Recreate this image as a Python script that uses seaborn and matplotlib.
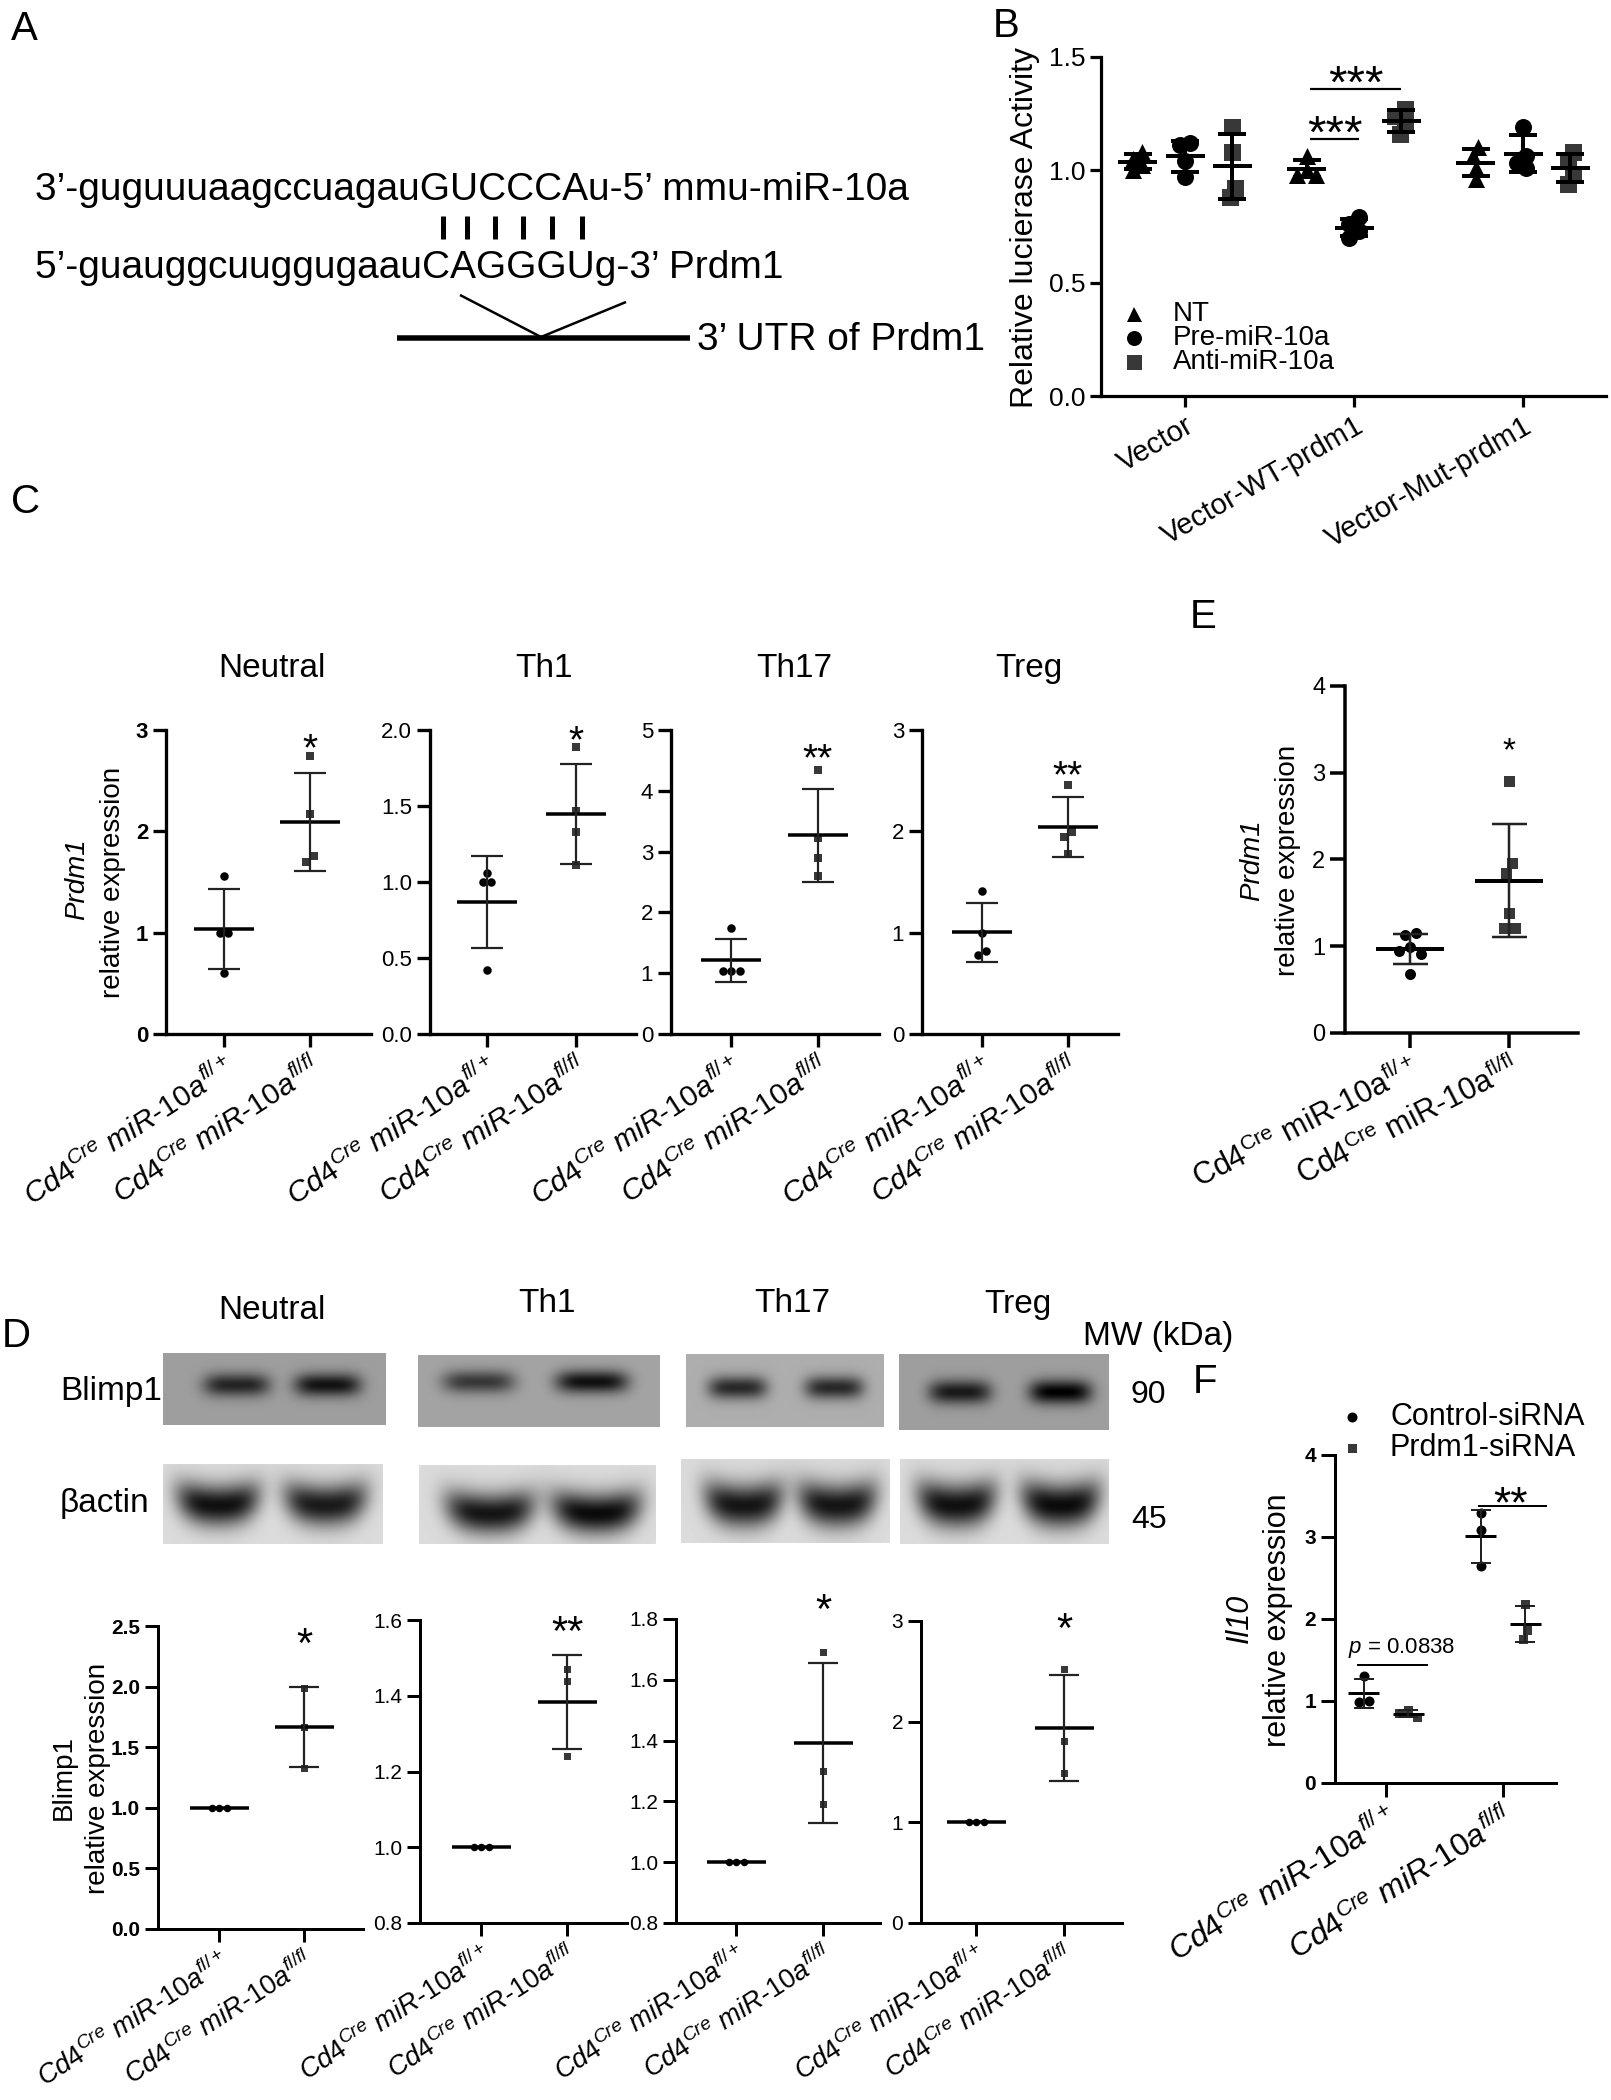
import numpy as np
import pandas as pd
import matplotlib
matplotlib.use("Agg")
import matplotlib.pyplot as plt
import seaborn as sns
from matplotlib.lines import Line2D

# ---------------- data ----------------
b_groups = ["Vector", "Vector-WT-prdm1", "Vector-Mut-prdm1"]
b_treat = ["NT", "Pre-miR-10a", "Anti-miR-10a"]
b_nt = [[1.08, 1.05, 1.02, 1.00], [1.06, 1.00, 0.98, 0.98], [1.10, 1.06, 1.01, 0.96]]
b_pre = [[1.12, 1.11, 1.04, 0.97], [0.79, 0.76, 0.73, 0.70], [1.19, 1.06, 1.03, 1.01]]
b_anti = [[1.19, 1.08, 0.92, 0.88], [1.27, 1.24, 1.20, 1.16], [1.08, 1.04, 0.98, 0.94]]

subsets = ["Neutral", "Th1", "Th17", "Treg"]
c_het = [[1.56, 1.00, 1.00, 0.60], [1.06, 1.00, 1.00, 0.42], [1.75, 1.03, 1.03, 1.03], [1.41, 1.00, 0.82, 0.78]]
c_ko = [[2.74, 2.17, 1.76, 1.70], [1.89, 1.47, 1.33, 1.11], [4.34, 3.22, 2.90, 2.60], [2.46, 1.99, 1.94, 1.78]]
c_stars = ["*", "*", "**", "**"]

d_het = [[1.0, 1.0, 1.0], [1.0, 1.0, 1.0], [1.0, 1.0, 1.0], [1.0, 1.0, 1.0]]
d_ko = [[1.99, 1.67, 1.33], [1.47, 1.44, 1.24], [1.69, 1.30, 1.19], [2.52, 1.81, 1.49]]
d_stars = ["*", "**", "*", "*"]

e_het = [1.15, 1.13, 0.99, 0.94, 0.91, 0.68]
e_ko = [2.91, 1.96, 1.85, 1.38, 1.21, 1.21]

f_series = ["Control-siRNA", "Prdm1-siRNA"]
f_ctrl = [[1.30, 1.00, 0.99], [3.29, 3.08, 2.65]]
f_si = [[0.89, 0.85, 0.80], [2.18, 1.86, 1.76]]

# western blot band darkness (lane 1, lane 2)
blimp_amp = [[0.48, 0.55], [0.42, 0.58], [0.52, 0.52], [0.52, 0.62]]
actin_amp = [[0.80, 0.76], [0.78, 0.82], [0.78, 0.78], [0.80, 0.82]]

geno_it = [r"$Cd4^{Cre}\ miR\text{-}10a^{fl/+}$", r"$Cd4^{Cre}\ miR\text{-}10a^{fl/fl}$"]
geno_rm = [r"$\mathrm{Cd4}^{\mathrm{Cre}}\ \mathrm{miR}\text{-}\mathrm{10a}^{\mathrm{fl/+}}$",
           r"$\mathrm{Cd4}^{\mathrm{Cre}}\ \mathrm{miR}\text{-}\mathrm{10a}^{\mathrm{fl/fl}}$"]

# ---------------- setup ----------------
W, H = 1611, 2100
sns.set_theme(style="ticks")
plt.rcParams["font.family"] = ["Liberation Sans", "DejaVu Sans"]
plt.rcParams["mathtext.fontset"] = "custom"
plt.rcParams["mathtext.rm"] = "Liberation Sans"
plt.rcParams["mathtext.it"] = "Liberation Sans:italic"
plt.rcParams["mathtext.bf"] = "Liberation Sans:bold"
plt.rcParams["mathtext.default"] = "it"
plt.rcParams["text.color"] = "black"

fig = plt.figure(figsize=(W / 100, H / 100), dpi=100)
fig.patch.set_facecolor("white")
PT = 0.72  # px -> pt at 100 dpi
SQ = "#383838"


def ftext(x, y, s, size, **kw):
    kw.setdefault("ha", "left")
    kw.setdefault("va", "baseline")
    fig.text(x / W, 1 - y / H, s, fontsize=size, **kw)


def fline(xs, ys, lw):
    fig.add_artist(Line2D([v / W for v in xs], [1 - v / H for v in ys], lw=lw * PT, color="black",
                          solid_capstyle="butt"))


def fmark(x, y, marker, px, color):
    fig.add_artist(Line2D([x / W], [1 - y / H], marker=marker, markersize=px * PT, color=color,
                          linestyle="none", markeredgewidth=0))


def add_ax(x0, x1, ytop, ybot, t0, t1, ylim, spine=3.0, tlen=13, lsize=16, bold=False):
    ax = fig.add_axes([x0 / W, 1 - ybot / H, (x1 - x0) / W, (ybot - ytop) / H])
    sx = t1 - t0
    sy = (ybot - ytop) / (ylim[1] - ylim[0])
    ax.set_facecolor("none")
    ax.spines[["top", "right"]].set_visible(False)
    for s in ["left", "bottom"]:
        ax.spines[s].set_linewidth(spine * PT)
        ax.spines[s].set_color("black")
    ax.tick_params(length=tlen * PT, width=spine * PT, labelsize=lsize, colors="black")
    ax._lims = ((x0 - t0) / sx, (x1 - t0) / sx), ylim
    ax._bold = bold
    ax._lsize = lsize
    return ax, sx, sy


def finish(ax, yticks, fmt):
    ax.set_xlim(*ax._lims[0])
    ax.set_ylim(*ax._lims[1])
    ax.set_yticks(yticks)
    ax.set_yticklabels([fmt.format(v) for v in yticks], fontsize=ax._lsize,
                       fontweight="bold" if ax._bold else "normal")
    ax.set_xlabel("")
    ax.set_ylabel("")


def swarm(vals, px_per_y, d):
    ys = np.asarray(vals, float) * px_per_y
    n = len(ys)
    order = np.argsort(-ys, kind="stable")
    offs = np.zeros(n)
    cands = [0.0]
    for m in range(1, 14):
        cands += [-m * d / 2, m * d / 2]
    done = []
    for i in order:
        for c in cands:
            if all((c - offs[j]) ** 2 + (ys[i] - ys[j]) ** 2 >= (0.999 * d) ** 2 for j in done):
                offs[i] = c
                break
        done.append(i)
    # centre connected clusters
    srt = list(order[::-1])
    clusters, cur = [], [srt[0]]
    for a, b in zip(srt[:-1], srt[1:]):
        if abs(ys[b] - ys[a]) < d:
            cur.append(b)
        else:
            clusters.append(cur)
            cur = [b]
    clusters.append(cur)
    for cl in clusters:
        offs[cl] -= offs[cl].mean()
    return offs


def group(ax, xc, vals, sx, sy, marker, mpx, color, mean_px, mean_lw, err_lw, cap_px,
          ecolor="black", spread=1.0):
    vals = np.asarray(vals, float)
    offs = swarm(vals, sy, mpx * spread) / sx
    df = pd.DataFrame({"x": xc + offs, "y": vals})
    sns.scatterplot(data=df, x="x", y="y", ax=ax, marker=marker, s=(mpx * PT) ** 2, color=color,
                    linewidth=0, zorder=3, clip_on=False, legend=False)
    m = vals.mean()
    sd = vals.std(ddof=1)
    hw = mean_px / 2 / sx
    ax.hlines(m, xc - hw, xc + hw, colors="black", linewidth=mean_lw * PT, zorder=4)
    if sd > 0:
        ax.errorbar(xc, m, yerr=sd, fmt="none", ecolor=ecolor, elinewidth=err_lw * PT,
                    capsize=cap_px * PT / 2, capthick=err_lw * PT, zorder=4)


def star(ax, x, y, s, fs):
    ax.annotate(s, (x, y), xytext=(0, -0.6 * fs), textcoords="offset points", ha="center",
                va="baseline", fontsize=fs, annotation_clip=False)


# ---------------- panel letters ----------------
for lt, x, y in [("A", 11, 40), ("B", 993, 37), ("C", 11, 513), ("D", 2, 1347),
                 ("E", 1190, 628), ("F", 1193, 1393)]:
    ftext(x, y, lt, 29)

# ---------------- A ----------------
ftext(35, 200, "3\u2019-guguuuaagccuagauGUCCCAu-5\u2019 mmu-miR-10a", 28)
ftext(35, 278, "5\u2019-guauggcuuggugaauCAGGGUg-3\u2019 Prdm1", 28)
for bx in [443, 467, 495, 523, 552, 582]:
    fline([bx, bx], [216, 239], 5)
fline([460, 541], [295, 337], 2.5)
fline([626, 541], [302, 337], 2.5)
fline([397, 690], [338, 338], 5.5)
ftext(697, 350, "3\u2019 UTR of Prdm1", 28)

# ---------------- B ----------------
axb, sxb, syb = add_ax(1101, 1606, 57, 396, 1185, 1354, (0, 1.5), spine=3.2, tlen=11, lsize=19)
hue_off = [-0.28, 0.0, 0.28]
b_sets = [b_nt, b_pre, b_anti]
b_mark = ["^", "o", "s"]
b_col = ["black", "black", SQ]
for k in range(3):
    for g in range(3):
        group(axb, g + hue_off[k], b_sets[k][g], sxb, syb, b_mark[k], 17, b_col[k],
              39, 4, 4, 28, spread=0.55)
axb.set_xticks(range(3))
axb.set_xticklabels(b_groups, rotation=30, ha="right", rotation_mode="anchor", fontsize=21)
finish(axb, [0, 0.5, 1.0, 1.5], "{:.1f}")
axb.hlines(1.139, 0.74, 1.03, colors="black", lw=2.2 * PT)
axb.hlines(1.358, 0.74, 1.276, colors="black", lw=2.2 * PT)
star(axb, 0.885, 1.225, "***", 34)
star(axb, 1.01, 1.445, "***", 34)
fig.text(1025 / W, 1 - 228 / H, "Relative lucierase Activity", rotation=90, ha="center", va="center",
         fontsize=23)
for i, (lab, mk, col) in enumerate(zip(b_treat, b_mark, b_col)):
    yy = [314, 338, 362][i]
    fmark(1134, yy, mk, 15, col)
    ftext(1173, yy, lab, 20, va="center")

# ---------------- C ----------------
c_geo = [(166, 371, 224, 310, (0, 3), [0, 1, 2, 3], "{:.0f}", True),
         (430, 636, 487, 576, (0, 2), [0, 0.5, 1.0, 1.5, 2.0], "{:.1f}", False),
         (671, 879, 731, 818, (0, 5), [0, 1, 2, 3, 4, 5], "{:.0f}", False),
         (922, 1118, 982, 1068, (0, 3), [0, 1, 2, 3], "{:.0f}", False)]
c_title_x = [272, 544, 794, 1029]
c_star_y = [2.93, 2.01, 4.72, 2.66]
for i, (x0, x1, t0, t1, yl, yt, fmt, bold) in enumerate(c_geo):
    ax, sx, sy = add_ax(x0, x1, 730, 1034, t0, t1, yl, spine=3.3, tlen=13, lsize=16, bold=bold)
    group(ax, 0, c_het[i], sx, sy, "o", 8.5, "black", 60, 3.5, 2.2, 32, ecolor="#222222")
    group(ax, 1, c_ko[i], sx, sy, "s", 7.5, SQ, 60, 3.5, 2.2, 32, ecolor="#222222")
    ax.set_xticks([0, 1])
    ax.set_xticklabels(geno_it, rotation=33, ha="right", rotation_mode="anchor", fontsize=21.5)
    finish(ax, yt, fmt)
    star(ax, 1, c_star_y[i], c_stars[i], 28)
    ftext(c_title_x[i], 677, subsets[i], 24, ha="center")
fig.text(77 / W, 1 - 879 / H, "Prdm1", rotation=90, ha="center", va="center", fontsize=20,
         fontstyle="italic")
fig.text(113 / W, 1 - 882 / H, "relative expression", rotation=90, ha="center", va="center", fontsize=20)

# ---------------- E ----------------
axe, sxe, sye = add_ax(1345, 1578, 686, 1033, 1410, 1509, (0, 4), spine=3.5, tlen=15, lsize=17)
group(axe, 0, e_het, sxe, sye, "o", 11, "black", 68, 4, 2.5, 35, ecolor="#222222")
group(axe, 1, e_ko, sxe, sye, "s", 11, SQ, 68, 4, 2.5, 35, ecolor="#222222")
axe.set_xticks([0, 1])
axe.set_xticklabels(geno_rm, rotation=27, ha="right", rotation_mode="anchor", fontsize=22)
finish(axe, [0, 1, 2, 3, 4], "{:.0f}")
star(axe, 1, 3.37, "*", 24)
fig.text(1252 / W, 1 - 860 / H, "Prdm1", rotation=90, ha="center", va="center", fontsize=20,
         fontstyle="italic")
fig.text(1288 / W, 1 - 860 / H, "relative expression", rotation=90, ha="center", va="center", fontsize=20)

# ---------------- D: blots ----------------
blimp_rect = [(163, 1353, 386, 1425), (418, 1355, 660, 1427), (686, 1354, 884, 1427), (899, 1354, 1109, 1430)]
actin_rect = [(163, 1464, 383, 1544), (419, 1465, 656, 1544), (681, 1459, 890, 1543), (900, 1459, 1109, 1544)]
blimp_lane = [(0.33, 0.74), (0.25, 0.72), (0.26, 0.75), (0.29, 0.77)]
actin_lane = [(0.25, 0.74), (0.30, 0.75), (0.30, 0.75), (0.27, 0.77)]
blimp_bg = [0.62, 0.64, 0.68, 0.62]
blimp_cy = [0.45, 0.37, 0.46, 0.50]
actin_cy = [0.52, 0.62, 0.56, 0.55]


def blot(rect, bg, lanes, amps, cy, bw, bh, curve):
    x0, y0, x1, y1 = rect
    w, h = int(x1 - x0), int(y1 - y0)
    xx, yy = np.meshgrid(np.linspace(0, 1, w), np.linspace(0, 1, h))
    img = np.full((h, w), bg)
    for cx, a in zip(lanes, amps):
        yc = cy - curve * ((xx - cx) / bw) ** 2
        img -= a * np.exp(-np.abs((xx - cx) / bw) ** 4 - ((yy - yc) / bh) ** 2)
    img = np.clip(img, 0, 1)
    ax = fig.add_axes([x0 / W, 1 - y1 / H, w / W, h / H])
    ax.imshow(img, cmap="gray", vmin=0, vmax=1, aspect="auto", interpolation="bilinear")
    ax.set_axis_off()


for i in range(4):
    blot(blimp_rect[i], blimp_bg[i], blimp_lane[i], blimp_amp[i], blimp_cy[i], 0.15, 0.16, 0.0)
    blot(actin_rect[i], 0.86, actin_lane[i], actin_amp[i], actin_cy[i], 0.19, 0.26, 0.12)

for t, x, y in zip(subsets, [272, 547, 792, 1018], [1319, 1312, 1312, 1313]):
    ftext(x, y, t, 24, ha="center")
ftext(1083, 1345, "MW (kDa)", 24)
ftext(60, 1400, "Blimp1", 24)
ftext(60, 1512, "\u03b2actin", 24)
ftext(1131, 1403, "90", 23)
ftext(1131, 1528, "45", 23)

# ---------------- D: quantification ----------------
d_geo = [(158, 363, 1626, 1929, 219, 304, (0, 2.5), [0, 0.5, 1.0, 1.5, 2.0, 2.5], True),
         (420, 627, 1620, 1923, 481, 567, (0.8, 1.6), [0.8, 1.0, 1.2, 1.4, 1.6], False),
         (676, 880, 1619, 1923, 736, 823, (0.8, 1.8), [0.8, 1.0, 1.2, 1.4, 1.6, 1.8], False),
         (921, 1122, 1621, 1923, 976, 1064, (0, 3), [0, 1, 2, 3], False)]
d_fmt = ["{:.1f}", "{:.1f}", "{:.1f}", "{:.0f}"]
d_star_y = [2.45, 1.6, 1.87, 3.04]
for i, (x0, x1, yt0, yb0, t0, t1, yl, yt, bold) in enumerate(d_geo):
    ax, sx, sy = add_ax(x0, x1, yt0, yb0, t0, t1, yl, spine=3.0, tlen=13, lsize=15, bold=bold)
    group(ax, 0, d_het[i], sx, sy, "o", 7.5, "black", 59, 3.5, 2.2, 30, ecolor="#222222")
    group(ax, 1, d_ko[i], sx, sy, "s", 7, SQ, 59, 3.5, 2.2, 30, ecolor="#222222")
    ax.set_xticks([0, 1])
    ax.set_xticklabels(geno_it, rotation=33, ha="right", rotation_mode="anchor", fontsize=19.5)
    finish(ax, yt, d_fmt[i])
    star(ax, 1, d_star_y[i], d_stars[i], 30)
fig.text(64 / W, 1 - 1778 / H, "Blimp1", rotation=90, ha="center", va="center", fontsize=20)
fig.text(98 / W, 1 - 1778 / H, "relative expression", rotation=90, ha="center", va="center", fontsize=20)

# ---------------- F ----------------
axf, sxf, syf = add_ax(1335, 1556, 1455, 1783, 1386, 1503, (0, 4), spine=3.0, tlen=14, lsize=15,
                       bold=True)
for g in range(2):
    group(axf, g - 0.19, f_ctrl[g], sxf, syf, "o", 10, "black", 31, 3, 2, 20, ecolor="#222222")
    group(axf, g + 0.19, f_si[g], sxf, syf, "s", 9, SQ, 31, 3, 2, 20, ecolor="#222222")
axf.set_xticks([0, 1])
axf.set_xticklabels(geno_it, rotation=32, ha="right", rotation_mode="anchor", fontsize=23)
finish(axf, [0, 1, 2, 3, 4], "{:.0f}")
axf.hlines(1.44, -0.25, 0.36, colors="black", lw=2 * PT)
axf.text(0.13, 1.646, r"$p$ = 0.0838", ha="center", va="center", fontsize=16)
axf.hlines(3.38, 0.79, 1.376, colors="black", lw=2 * PT)
star(axf, 1.06, 3.56, "**", 32)
fig.text(1240 / W, 1 - 1618 / H, "Il10", rotation=90, ha="center", va="center", fontsize=22,
         fontstyle="italic")
fig.text(1278 / W, 1 - 1620 / H, "relative expression", rotation=90, ha="center", va="center", fontsize=22)
fmark(1352, 1417, "o", 10, "black")
fmark(1352, 1448, "s", 9, SQ)
ftext(1390, 1417, f_series[0], 22, va="center")
ftext(1390, 1448, f_series[1], 22, va="center")

fig.savefig("out.png", dpi=100, facecolor="white")
